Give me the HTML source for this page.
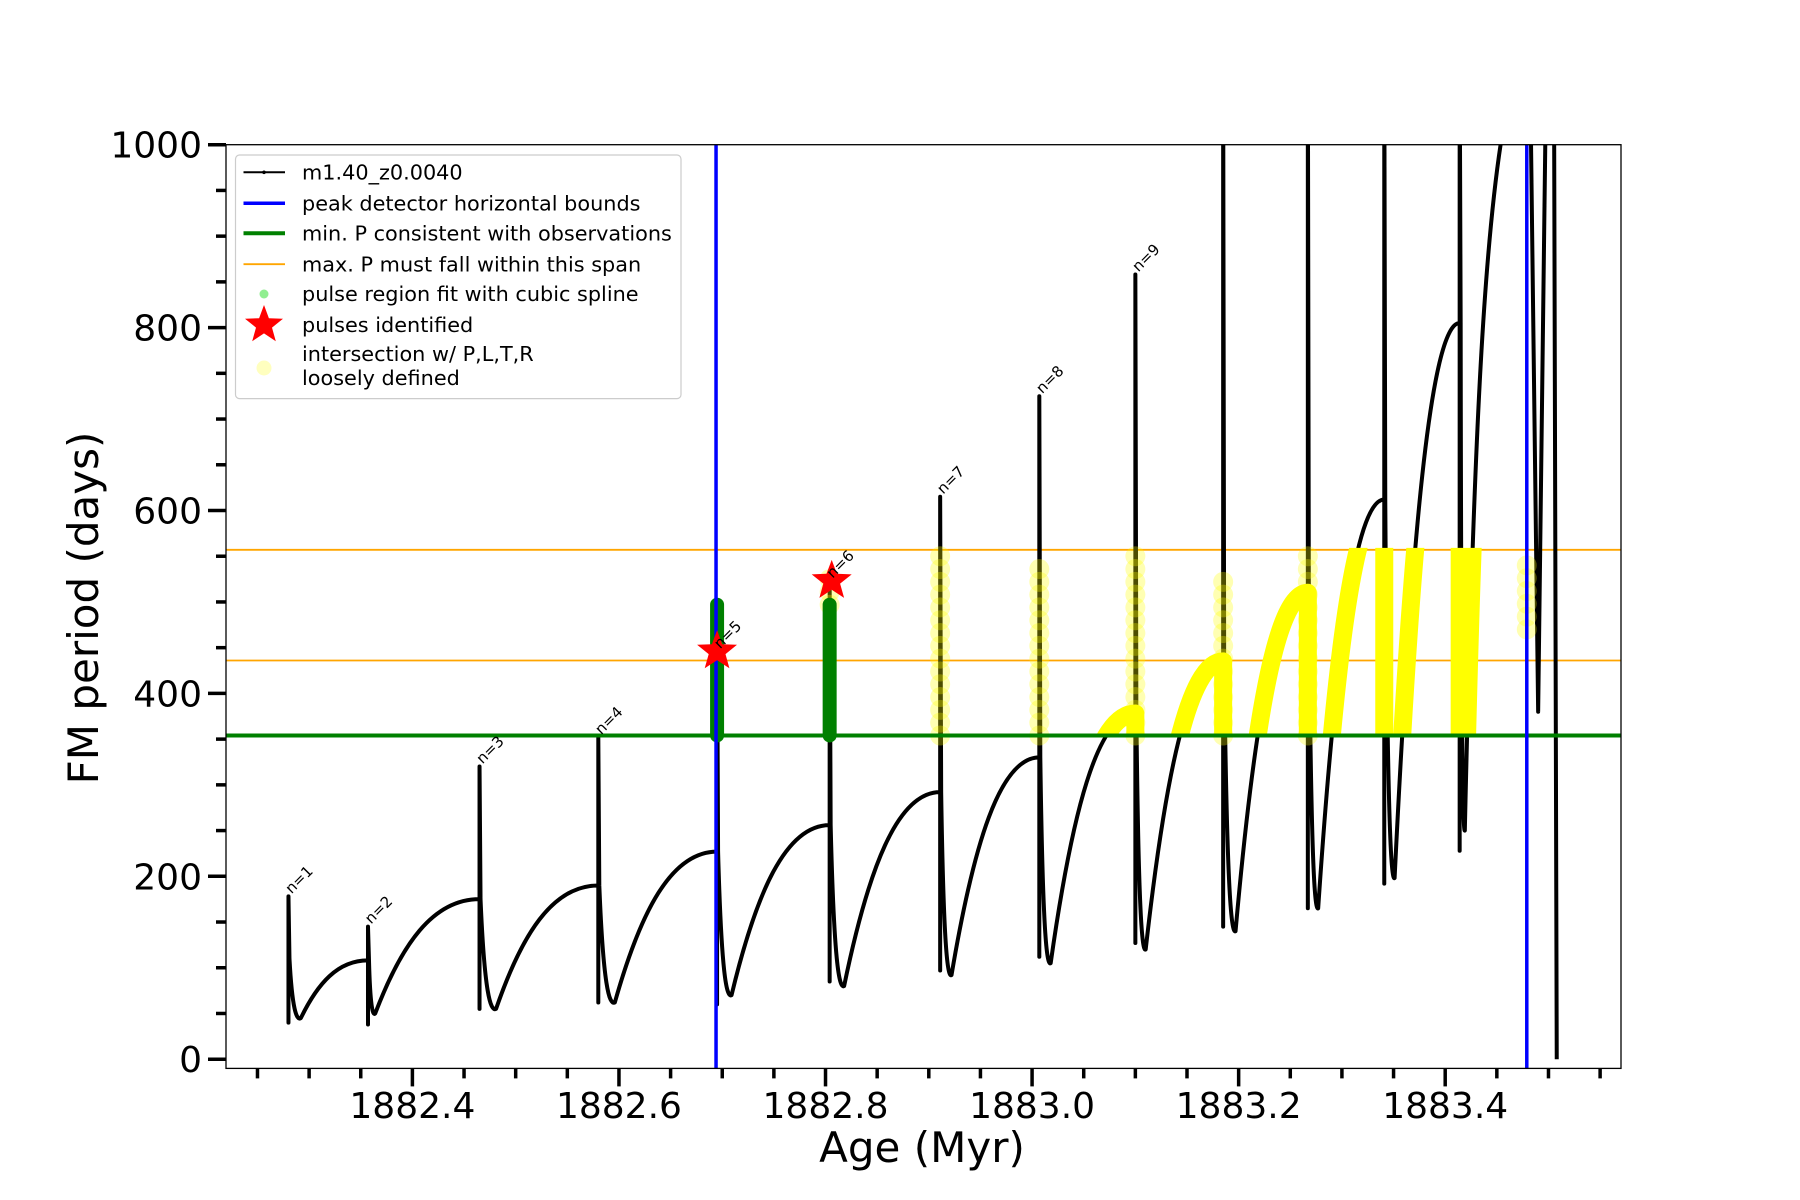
<!DOCTYPE html>
<html><head><meta charset="utf-8">
<style>
html,body{margin:0;padding:0;background:#fff;}
svg{display:block;font-family:"DejaVu Sans","Liberation Sans",sans-serif;}
</style></head>
<body>
<svg id="chart" width="1800" height="1200" viewBox="0 0 1800 1200">
<defs><clipPath id="plotclip"><rect x="226" y="144.7" width="1395" height="923.7"/></clipPath></defs>
<rect x="0" y="0" width="1800" height="1200" fill="#fff"/>
<g id="data" clip-path="url(#plotclip)"></g>
<rect x="226" y="144.7" width="1395" height="923.7" fill="none" stroke="#000" stroke-width="1.3"/>
<g id="axes"></g>
<text x="922" y="1162" font-size="42" text-anchor="middle">Age (Myr)</text>
<text x="0" y="0" font-size="42" text-anchor="middle" transform="translate(98,608) rotate(-90)">FM period (days)</text>
<g id="legend">
 <rect x="235.5" y="155" width="445.5" height="243.6" rx="4" fill="#fff" fill-opacity="0.85" stroke="#ccc" stroke-width="1.2"/>
 <g><line x1="243.5" y1="172.3" x2="285" y2="172.3" stroke="#000" stroke-width="2"/><circle cx="264" cy="172.3" r="1.8" fill="#000"/><text x="302" y="179.5" font-size="20.8">m1.40_z0.0040</text></g>
 <g><line x1="243.5" y1="203.3" x2="285" y2="203.3" stroke="#0000ff" stroke-width="3.5"/><text x="302" y="210.5" font-size="20.8">peak detector horizontal bounds</text></g>
 <g><line x1="243.5" y1="233.2" x2="285" y2="233.2" stroke="#008000" stroke-width="4"/><text x="302" y="240.4" font-size="20.8">min. P consistent with observations</text></g>
 <g><line x1="243.5" y1="264.2" x2="285" y2="264.2" stroke="#ffa500" stroke-width="1.8"/><text x="302" y="271.4" font-size="20.8">max. P must fall within this span</text></g>
 <g><circle cx="264" cy="294" r="4.5" fill="#90ee90"/><text x="302" y="301.2" font-size="20.8">pulse region fit with cubic spline</text></g>
 <g><polygon id="legstar" fill="#ff0000"/><text x="302" y="332.2" font-size="20.8">pulses identified</text></g>
 <g><circle cx="264" cy="368" r="7.5" fill="#ffff00" fill-opacity="0.25"/><text x="302" y="361" font-size="20.8">intersection w/ P,L,T,R</text><text x="302" y="385" font-size="20.8">loosely defined</text></g>
</g>
</svg>
<script>
// ---- data ----
const pulseAge = [1882.280,1882.357,1882.465,1882.580,1882.695,1882.804,1882.911,1883.007,1883.100,1883.185,1883.267,1883.341,1883.414];
const preP     = [110,108,175,190,227,256,292,330,378,435,510,612,805];
const peakP    = [178,145,320,352,470,520,615,725,858,1100,1100,1100,1100];
const lowP     = [40,38,55,62,60,85,97,112,127,145,165,192,228];
const troughAge= [1882.292,1882.364,1882.481,1882.596,1882.709,1882.818,1882.922,1883.018,1883.110,1883.197,1883.277,1883.351,1883.419];
const troughP  = [45,50,55,62,70,80,92,105,120,140,165,198,250];
const finalRiseAge = [1883.455];
const finalRiseP = [1010];
const tailAge = [1883.483,1883.490,1883.497,1883.5055,1883.508];
const tailP   = [1010,380,1010,1010,0];
const labelText = ["n=1","n=2","n=3","n=4","n=5","n=6","n=7","n=8","n=9"];
const labelP = [178,145,320,352,446,523,615,725,858];
const blueAges = [1882.694,1883.479];
const minP = [354];
const maxPSpan = [436,557];
const greenAges = [1882.695,1882.804];
const greenTop = [497,497];
const starAges = [1882.695,1882.806];
const starP = [446,523];
const faintAges = [1882.804,1882.911,1883.007,1883.100,1883.185,1883.267,1883.479];
const faintLo = [497,354,354,354,354,354,470];
const faintHi = [532,550,545,557,530,557,545];
const yellowAgeRange = [1883.05,1883.44];
const xTickLabels = ["1882.4","1882.6","1882.8","1883.0","1883.2","1883.4"];
const xTickValues = [1882.4,1882.6,1882.8,1883.0,1883.2,1883.4];
const yTickValues = [0,200,400,600,800,1000];

// ---- scales ----
const X = a => 412.4 + (a-1882.4)*1032.8;
const Y = p => 1059.2 - p*0.9145;
const NS = "http://www.w3.org/2000/svg";
const g = document.getElementById('data');
const ax = document.getElementById('axes');
function mk(tag, attrs, parent){const e=document.createElementNS(NS,tag);for(const k in attrs)e.setAttribute(k,attrs[k]);(parent||g).appendChild(e);return e;}
function starPts(cx,cy,R){const r=R*0.42;let s=[];for(let i=0;i<10;i++){const ang=-Math.PI/2+i*Math.PI/5;const rr=i%2?r:R;s.push((cx+rr*Math.cos(ang)).toFixed(1)+','+(cy+rr*Math.sin(ang)).toFixed(1));}return s.join(' ');}
document.getElementById('legstar').setAttribute('points', starPts(264,325,20));

maxPSpan.forEach(p=>{
  const l=mk('line',{x1:226,x2:1621,y1:Y(p),y2:Y(p),stroke:'#ffa500','stroke-width':1.8});
  
  
});

let d = `M${X(pulseAge[0])},${Y(preP[0])}`;
let yd = '';
for(let i=0;i<pulseAge.length;i++){
  const t=X(pulseAge[i]);
  const tx=X(troughAge[i]), ty=Y(troughP[i]);
  const w=tx-t, top=Y(Math.min(preP[i],peakP[i]));
  d += ` L${t},${Y(preP[i])} L${t},${Y(lowP[i])} L${t},${Y(peakP[i])} L${t+1},${top}`;
  d += ` C${t+0.3*w},${ty-0.15*(ty-top)} ${tx-0.35*w},${ty+3} ${tx},${ty}`;
  yd += ` M${t},${Y(preP[i])} L${t},${Y(lowP[i])}`;
  let nx, ny;
  if(i<pulseAge.length-1){nx=X(pulseAge[i+1]); ny=Y(preP[i+1]);}
  else {nx=X(finalRiseAge[0]); ny=Y(finalRiseP[0]);}
  const dx=nx-tx, dy=ny-ty;
  const seg = ` C${tx+0.25*dx},${ty+0.6*dy} ${tx+0.55*dx},${i<pulseAge.length-1?ny:ty+0.85*dy} ${nx},${ny}`;
  d += seg;
  yd += ` M${tx},${ty}` + seg;
}
tailAge.forEach((a,i)=>{ d += ` L${X(a)},${Y(tailP[i])}`; });

const curve = mk('path',{d:d,fill:'none',stroke:'#000','stroke-width':4,'stroke-linejoin':'round'});



const yclip = mk('clipPath',{id:'yclip'});
mk('rect',{x:X(yellowAgeRange[0]),y:Y(maxPSpan[1])-2,width:X(yellowAgeRange[1])-X(yellowAgeRange[0]),height:Y(minP[0])-Y(maxPSpan[1])+4},yclip);
const yp = mk('path',{d:yd,fill:'none',stroke:'#ffff00','stroke-width':18,'stroke-linecap':'round','stroke-linejoin':'round','clip-path':'url(#yclip)'});



faintAges.forEach((a,i)=>{
  for(let p=faintLo[i]; p<=faintHi[i]; p+=14){
    const c=mk('circle',{cx:X(a),cy:Y(p),r:10,fill:'#ffff00','fill-opacity':0.3});
    
    
  }
});

const gl=mk('line',{x1:226,x2:1621,y1:Y(minP[0]),y2:Y(minP[0]),stroke:'#008000','stroke-width':4});



greenAges.forEach((a,i)=>{
  const l=mk('line',{x1:X(a),x2:X(a),y1:Y(minP[0]),y2:Y(greenTop[i]),stroke:'#008000','stroke-width':14,'stroke-linecap':'round'});
  
  
});

blueAges.forEach(a=>{
  const l=mk('line',{x1:X(a),x2:X(a),y1:144.7,y2:1068.4,stroke:'#0000ff','stroke-width':3.5});
  
  
});

starAges.forEach((a,i)=>{
  const s=mk('polygon',{points:starPts(X(a),Y(starP[i]),21),fill:'#ff0000'});
  
  
});

labelText.forEach((t,i)=>{
  const x=X(pulseAge[i])+3, y=Y(labelP[i])-2;
  const e=mk('text',{x:0,y:0,'font-size':15,transform:`translate(${x},${y}) rotate(-45)`});
  e.textContent=t;
  
  
});

for(let k=0;k<=26;k++){
  const a=1882.25+k*0.05;
  const x=X(a); if(x<225||x>1621) continue;
  const major = xTickValues.some(v=>Math.abs(v-a)<1e-6);
  const tk=mk('line',{x1:x,x2:x,y1:1068.4,y2:1068.4+(major?18:10),stroke:'#000','stroke-width':3.5},ax);
  
  
}
xTickValues.forEach((v,i)=>{
  const t=mk('text',{x:X(v),y:1118,'font-size':36,'text-anchor':'middle'},ax);
  t.textContent=xTickLabels[i];
  
  
});
for(let p=0;p<=1000;p+=50){
  const major = p%200===0;
  const tk=mk('line',{x1:226-(major?18:10),x2:226,y1:Y(p),y2:Y(p),stroke:'#000','stroke-width':3.5},ax);
  
  
}
yTickValues.forEach(v=>{
  const t=mk('text',{x:202,y:Y(v)+13,'font-size':36,'text-anchor':'end'},ax);
  t.textContent=String(v);
  
  
});
</script>
</body></html>
